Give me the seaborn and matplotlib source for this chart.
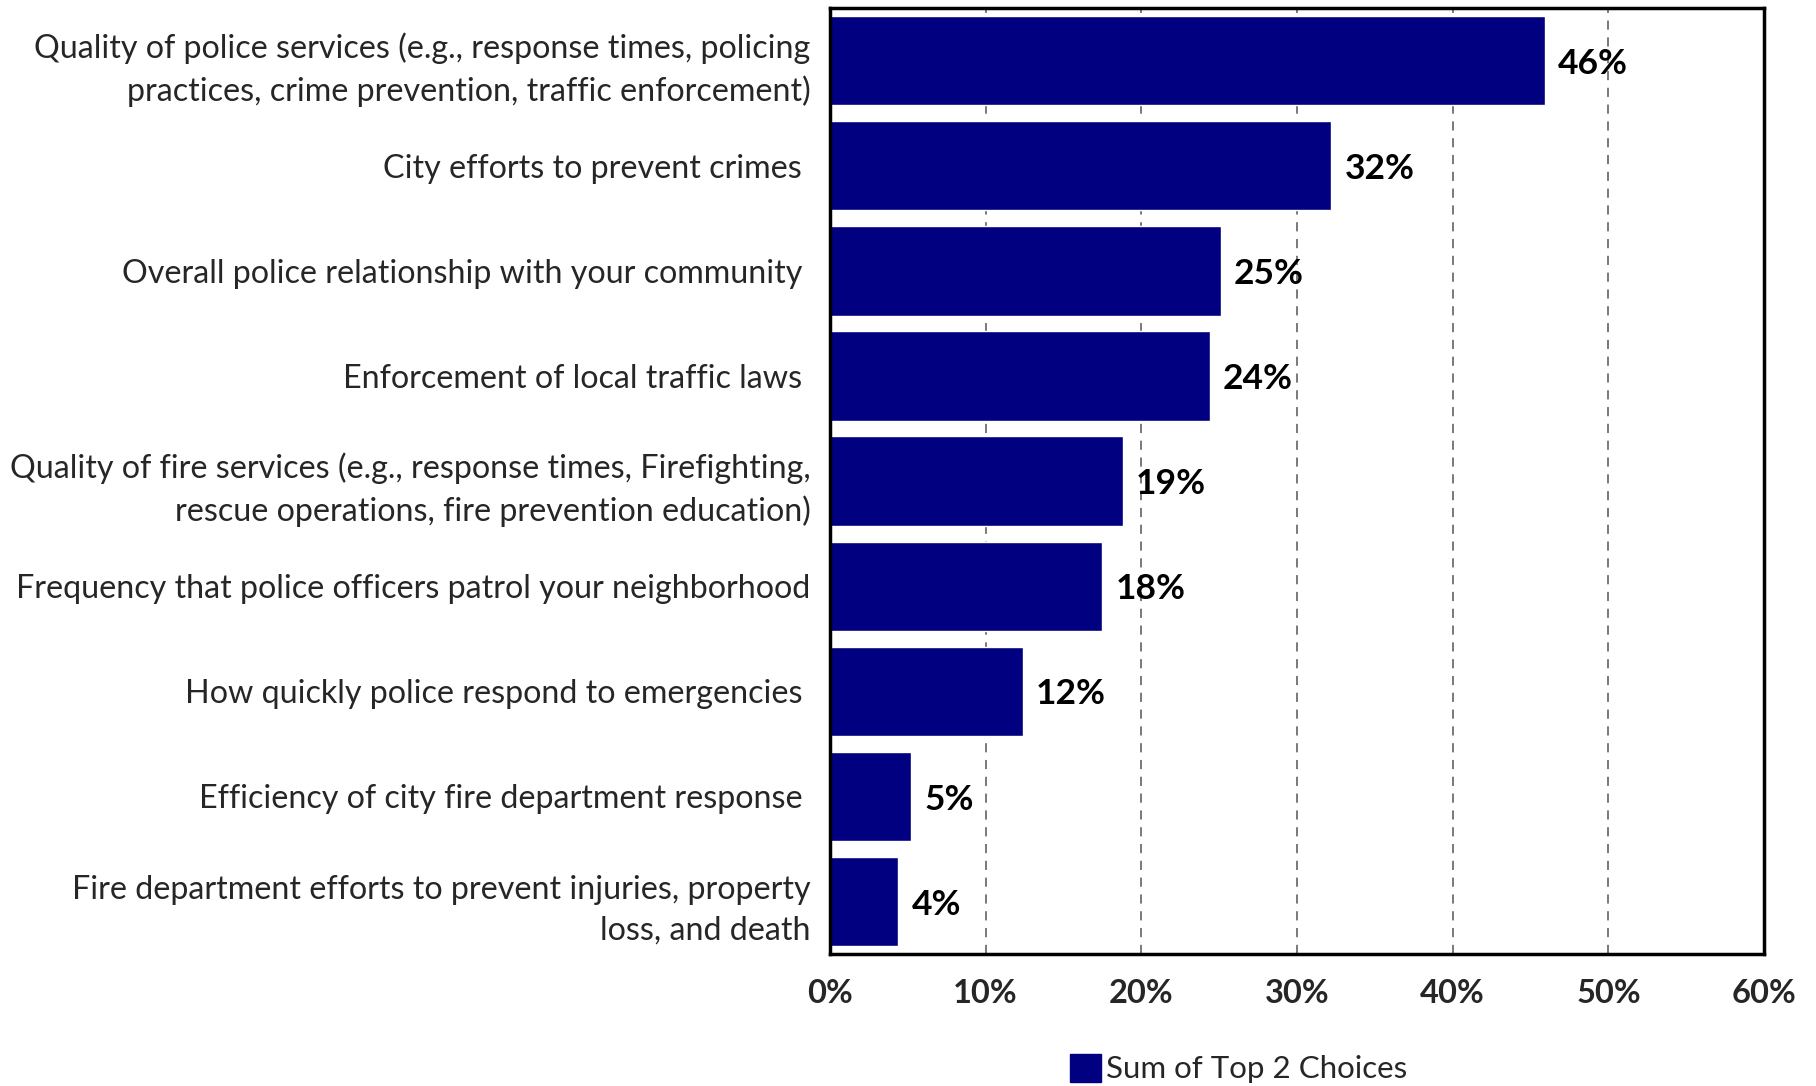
import matplotlib
matplotlib.use("Agg")
import matplotlib.pyplot as plt
import seaborn as sns
import pandas as pd
from matplotlib.patches import Patch

categories = [
    "Quality of police services (e.g., response times, policing\npractices, crime prevention, traffic enforcement)",
    "City efforts to prevent crimes ",
    "Overall police relationship with your community ",
    "Enforcement of local traffic laws ",
    "Quality of fire services (e.g., response times, Firefighting,\nrescue operations, fire prevention education)",
    "Frequency that police officers patrol your neighborhood",
    "How quickly police respond to emergencies ",
    "Efficiency of city fire department response ",
    "Fire department efforts to prevent injuries, property\nloss, and death",
]
values = [45.9, 32.2, 25.1, 24.4, 18.8, 17.5, 12.4, 5.2, 4.4]
value_labels = ["46%", "32%", "25%", "24%", "19%", "18%", "12%", "5%", "4%"]
x_ticks = [0, 10, 20, 30, 40, 50, 60]
x_tick_labels = ["0%", "10%", "20%", "30%", "40%", "50%", "60%"]
series_name = "Sum of Top 2 Choices"

sns.set_theme(style="white")
plt.rcParams['font.family'] = ['Lato', 'DejaVu Sans']

df = pd.DataFrame({"cat": categories, "val": values})

fig = plt.figure(figsize=(18.16, 10.86), dpi=100)
ax = fig.add_axes([0.457, 0.1215, 0.5144, 0.871])

color = "#000080"
sns.barplot(data=df, y="cat", x="val", orient="h", color=color, width=0.85,
            saturation=1, ax=ax)

ax.set_xlim(0, 60)
ax.set_xticks(x_ticks)
ax.set_xticklabels(x_tick_labels, fontsize=23.5, fontweight="bold")
ax.set_xlabel("")
ax.set_ylabel("")
ax.tick_params(axis="y", labelsize=23.2, length=0, pad=14)
ax.tick_params(axis="x", length=0, pad=18)
for lbl in ax.get_yticklabels():
    lbl.set_multialignment("right")
    lbl.set_linespacing(1.45)

for xv in x_ticks[1:-1]:
    ax.axvline(xv, color="#555555", linestyle=(0, (6, 5)), linewidth=1.1, zorder=0)

for spine in ax.spines.values():
    spine.set_visible(True)
    spine.set_color("black")
    spine.set_linewidth(2.5)

for i, (v, t) in enumerate(zip(values, value_labels)):
    ax.text(v + 0.85, i + 0.03, t, va="center", ha="left", fontsize=25.5,
            fontweight="bold", color="black")

handles = [Patch(facecolor=color, edgecolor=color, label=series_name)]
fig.legend(handles=handles, loc="center", bbox_to_anchor=(0.682, 0.016),
           frameon=False, fontsize=22.5, handlelength=1.0, handleheight=1.0,
           handletextpad=0.15, borderaxespad=0)

fig.savefig("out.png", dpi=100)
